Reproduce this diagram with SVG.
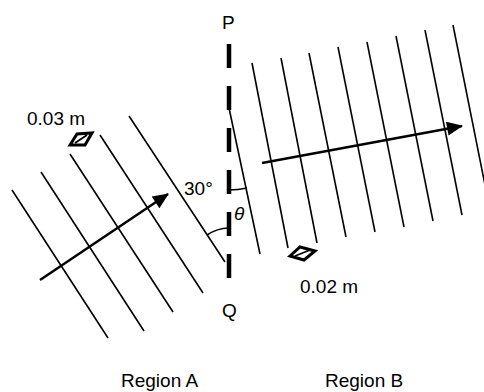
<svg xmlns="http://www.w3.org/2000/svg" width="484" height="392" viewBox="0 0 484 392">
<defs>
<style>
.t{font-family:"Liberation Sans",Arial,sans-serif;font-size:19px;fill:#000}
.w{stroke:#000;stroke-width:1.6;fill:none}
.a{stroke:#000;stroke-width:2.5;fill:none}
</style>
<marker id="ah2" viewBox="0 0 16 14" refX="15" refY="7" markerWidth="18" markerHeight="14" markerUnits="userSpaceOnUse" orient="auto">
<path d="M0,0 L16,7 L0,14 z" fill="#000"/>
</marker>
</defs>
<rect width="484" height="392" fill="#fff"/>
<g id="boundary">
<line x1="229" y1="44" x2="229" y2="280" stroke="#000" stroke-width="4.5" stroke-dasharray="24 18"/>
<text class="t" x="222" y="29">P</text>
<text class="t" x="222" y="317">Q</text>
</g>
<g id="regionA-waves">
<line class="w" x1="12" y1="190" x2="108" y2="338"/>
<line class="w" x1="41" y1="172" x2="144" y2="331"/>
<line class="w" x1="70" y1="154" x2="173" y2="312"/>
<line class="w" x1="100" y1="135" x2="203" y2="293"/>
<line class="w" x1="129" y1="116" x2="225" y2="262"/>
</g>
<g id="regionB-waves">
<line class="w" x1="229" y1="108" x2="260" y2="254"/>
<line class="w" x1="252" y1="63" x2="288" y2="248"/>
<line class="w" x1="281" y1="58" x2="317" y2="243"/>
<line class="w" x1="309" y1="53" x2="346" y2="237"/>
<line class="w" x1="338" y1="47" x2="375" y2="232"/>
<line class="w" x1="367" y1="42" x2="404" y2="227"/>
<line class="w" x1="396" y1="36" x2="433" y2="221"/>
<line class="w" x1="425" y1="30" x2="462" y2="215"/>
<line class="w" x1="453" y1="25" x2="490" y2="210"/>
</g>
<g id="connectors">
<line class="a" x1="40" y1="280" x2="168" y2="194" marker-end="url(#ah2)"/>
<line class="a" x1="262" y1="163" x2="462" y2="126" marker-end="url(#ah2)"/>
</g>
<g id="angles">
<path class="w" d="M229,190 A87,87 0 0 0 247,188"/>
<path class="w" d="M207,235 A40,40 0 0 1 229,228"/>
<text class="t" x="184" y="195">30°</text>
<text class="t" x="234" y="220" font-style="italic">θ</text>
</g>
<g id="wavelengthA">
<path d="M70,145 L77,134 L92,133 L85,145 z" fill="none" stroke="#000" stroke-width="3"/>
<line x1="75" y1="143" x2="87" y2="135" stroke="#000" stroke-width="1.8"/>
<text class="t" x="27" y="125">0.03 m</text>
</g>
<g id="wavelengthB">
<path d="M290,256 L300,247 L315,251 L304,260 z" fill="none" stroke="#000" stroke-width="3"/>
<line x1="295" y1="256" x2="310" y2="250" stroke="#000" stroke-width="1.8"/>
<text class="t" x="300" y="293">0.02 m</text>
</g>
<g id="labels">
<text class="t" x="121" y="387">Region A</text>
<text class="t" x="325" y="387">Region B</text>
</g>
</svg>
